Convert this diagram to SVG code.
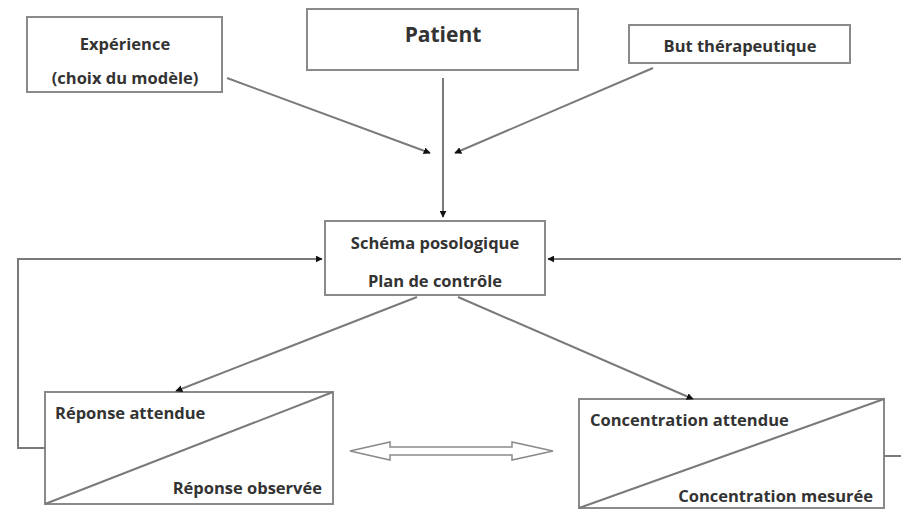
<svg xmlns="http://www.w3.org/2000/svg" width="901" height="511" viewBox="0 0 901 511">
<defs>
<style>
.box{fill:#fff;stroke:#8a8a8a;stroke-width:2}
.ln{fill:none;stroke:#7a7a7a;stroke-width:2}
.t{font-family:"Open Sans","Liberation Sans",sans-serif;font-weight:700;fill:#333;font-size:16.5px}
</style>
<marker id="ah" viewBox="0 0 10 10" refX="9" refY="5" markerWidth="3.5" markerHeight="3.5" orient="auto" markerUnits="strokeWidth">
<path d="M0,0 L10,5 L0,10 z" fill="#111"/>
</marker>
</defs>
<rect width="901" height="511" fill="#fff"/>
<g id="experience">
<rect class="box" x="27" y="17" width="195" height="75"/>
<text class="t" x="125" y="50" text-anchor="middle">Expérience</text>
<text class="t" x="125" y="84" text-anchor="middle">(choix du modèle)</text>
</g>
<g id="patient">
<rect class="box" x="307" y="9" width="271" height="61"/>
<text class="t" x="443" y="42" text-anchor="middle" style="font-size:21px">Patient</text>
</g>
<g id="but">
<rect class="box" x="629" y="25" width="221" height="38"/>
<text class="t" x="740" y="52" text-anchor="middle">But thérapeutique</text>
</g>
<g id="schema">
<rect class="box" x="325" y="221" width="220" height="74"/>
<text class="t" x="435" y="249" text-anchor="middle">Schéma posologique</text>
<text class="t" x="435" y="287" text-anchor="middle">Plan de contrôle</text>
</g>
<g id="reponse">
<rect class="box" x="45" y="392" width="288" height="112"/>
<line class="ln" x1="45" y1="504" x2="333" y2="392"/>
<text class="t" x="55" y="419">Réponse attendue</text>
<text class="t" x="322" y="494" text-anchor="end">Réponse observée</text>
</g>
<g id="concentration">
<rect class="box" x="579" y="399" width="305" height="109"/>
<line class="ln" x1="579" y1="508" x2="884" y2="399"/>
<text class="t" x="590" y="426">Concentration attendue</text>
<text class="t" x="873" y="502" text-anchor="end">Concentration mesurée</text>
</g>
<g id="connectors">
<line class="ln" x1="227" y1="78" x2="430" y2="153" marker-end="url(#ah)"/>
<line class="ln" x1="443" y1="78" x2="443" y2="217" marker-end="url(#ah)"/>
<line class="ln" x1="653" y1="68" x2="455" y2="153" marker-end="url(#ah)"/>
<polyline class="ln" points="45,448 18,448 18,259 322,259" marker-end="url(#ah)"/>
<polyline class="ln" points="901,259 548,259" marker-end="url(#ah)"/>
<line class="ln" x1="884" y1="456" x2="901" y2="456"/>
<line class="ln" x1="417" y1="297" x2="176" y2="391" marker-end="url(#ah)"/>
<line class="ln" x1="458" y1="297" x2="693" y2="399" marker-end="url(#ah)"/>
<path d="M350,451 L390,442 L390,447 L512,447 L512,442 L553,451 L512,460 L512,455 L390,455 L390,460 Z" fill="#fff" stroke="#8a8a8a" stroke-width="1.5"/>
</g>
</svg>
